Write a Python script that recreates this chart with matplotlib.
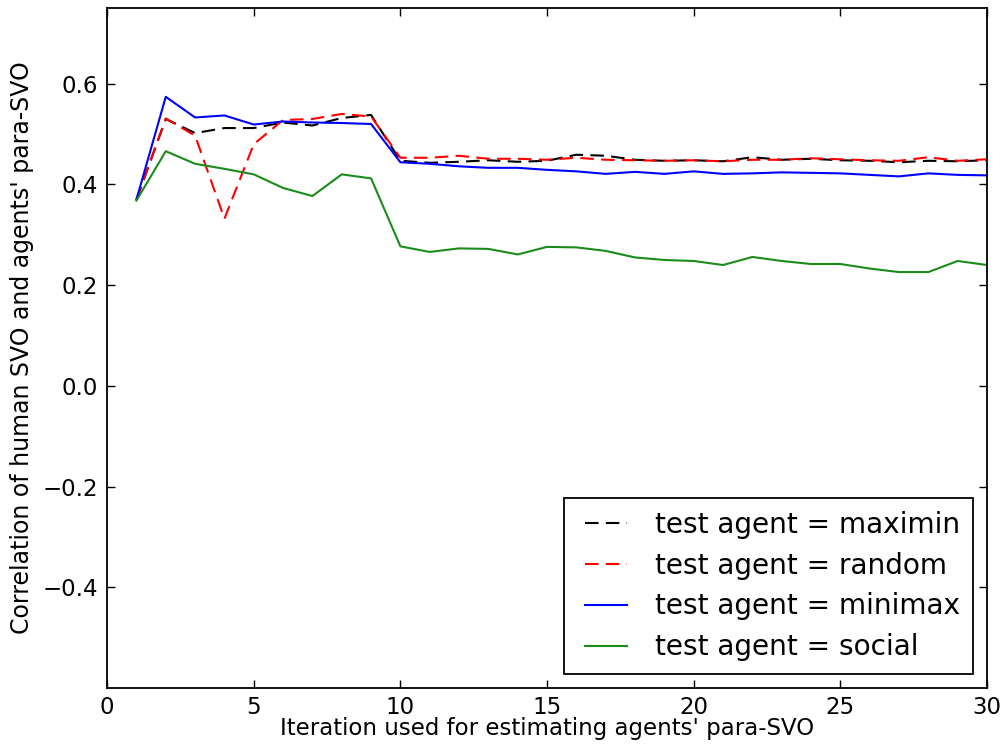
import matplotlib
matplotlib.use("Agg")
import matplotlib.pyplot as plt
from matplotlib.legend_handler import HandlerLine2D

iterations = list(range(1, 31))
maximin = [0.37, 0.53, 0.502, 0.512, 0.512, 0.523, 0.517, 0.532, 0.538, 0.447,
           0.443, 0.445, 0.448, 0.445, 0.447, 0.459, 0.457, 0.449, 0.447, 0.448,
           0.446, 0.454, 0.449, 0.451, 0.448, 0.447, 0.444, 0.447, 0.446, 0.448]
random_ = [0.37, 0.531, 0.497, 0.332, 0.48, 0.528, 0.53, 0.54, 0.535, 0.453,
           0.453, 0.457, 0.451, 0.451, 0.449, 0.453, 0.449, 0.448, 0.447, 0.448,
           0.446, 0.449, 0.449, 0.452, 0.45, 0.448, 0.447, 0.454, 0.447, 0.45]
minimax = [0.37, 0.574, 0.533, 0.537, 0.519, 0.525, 0.523, 0.522, 0.52, 0.444,
           0.441, 0.436, 0.433, 0.433, 0.429, 0.426, 0.421, 0.425, 0.421, 0.426,
           0.421, 0.422, 0.424, 0.423, 0.422, 0.419, 0.416, 0.422, 0.419, 0.418]
social = [0.368, 0.466, 0.441, 0.431, 0.42, 0.393, 0.377, 0.42, 0.412, 0.277,
          0.266, 0.273, 0.272, 0.261, 0.276, 0.275, 0.268, 0.255, 0.25, 0.248,
          0.24, 0.256, 0.248, 0.242, 0.242, 0.233, 0.226, 0.226, 0.248, 0.24]

labels = ["test agent = maximin", "test agent = random",
          "test agent = minimax", "test agent = social"]

plt.rcParams['font.family'] = ['DejaVu Sans']
fig = plt.figure(figsize=(10.01, 7.45), dpi=100, facecolor='white')
ax = fig.add_axes([0.107, 0.0765, 0.879, 0.9125])

lw = 1.5
dash = (0, (6.5, 3.5))
l1, = ax.plot(iterations, maximin, color='black', linestyle=dash, lw=lw, label=labels[0])
l2, = ax.plot(iterations, random_, color='red', linestyle=dash, lw=lw, label=labels[1])
l3, = ax.plot(iterations, minimax, color='blue', linestyle='-', lw=lw, label=labels[2])
l4, = ax.plot(iterations, social, color='#1a8c1a', linestyle='-', lw=lw, label=labels[3])

ax.set_xlim(0, 30)
ax.set_ylim(-0.6, 0.75)
ax.set_xticks([0, 5, 10, 15, 20, 25, 30])
ax.set_yticks([-0.4, -0.2, 0.0, 0.2, 0.4, 0.6])
ax.tick_params(direction='in', top=True, right=True, length=6, width=1,
               labelsize=16.5, pad=6.5)
ax.tick_params(axis='x', pad=5.5)
for s in ax.spines.values():
    s.set_linewidth(1.3)

ax.set_xlabel("Iteration used for estimating agents' para-SVO", fontsize=16.5, labelpad=-1)
ax.set_ylabel("Correlation of human SVO and agents' para-SVO", fontsize=17, labelpad=6)

hmap = {h: HandlerLine2D(xpad=0.3) for h in (l1, l2, l3, l4)}
leg = ax.legend(loc='lower right', fontsize=20.2, frameon=True, fancybox=False,
                edgecolor='black', framealpha=1, borderaxespad=0.5,
                handlelength=1.8, handletextpad=1.0, labelspacing=0.46,
                borderpad=0.45, handler_map=hmap)
leg.get_frame().set_linewidth(1.3)

fig.savefig("out.png", dpi=100, facecolor='white')
